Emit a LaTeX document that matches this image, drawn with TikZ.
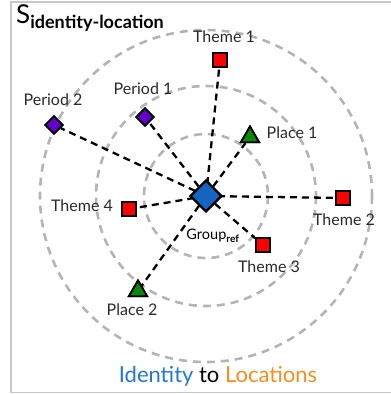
\documentclass[tikz,border=0pt]{standalone}
\usepackage{fontspec}
\setmainfont{Lato}
\usetikzlibrary{shapes.geometric}
\definecolor{ringgray}{HTML}{B4B4B4}
\definecolor{framegray}{HTML}{C8C8C8}
\definecolor{groupblue}{HTML}{1565C0}
\definecolor{periodpurple}{HTML}{6600CC}
\definecolor{placegreen}{HTML}{0A8A0A}
\definecolor{themered}{HTML}{FF0000}
\definecolor{labelgray}{HTML}{2A2A2A}
\definecolor{idblue}{HTML}{1F78D8}
\definecolor{locorange}{HTML}{FF8C1A}
\tikzset{
  ring/.style={draw=ringgray, line width=2.6pt, dash pattern=on 8pt off 6pt},
  link/.style={draw=black, line width=2.3pt, dash pattern=on 7pt off 5pt},
  theme/.style={draw=black, fill=themered, line width=1.8pt, minimum size=14pt, inner sep=0pt},
  place/.style={draw=black, fill=placegreen, line width=1.8pt, regular polygon, regular polygon sides=3, minimum size=21pt, inner sep=0pt},
  period/.style={draw=black, fill=periodpurple, line width=1.8pt, diamond, minimum size=18pt, inner sep=0pt},
  group/.style={draw=black, fill=groupblue, line width=2.4pt, diamond, minimum size=32pt, inner sep=0pt},
  lbl/.style={text=labelgray, font=\fontsize{16}{18}\selectfont, inner sep=0pt}
}
\begin{document}
\begin{tikzpicture}[x=1pt, y=-1pt]
  \useasboundingbox (0,0) rectangle (391,394);
  % frame
  \draw[framegray, line width=1.6pt] (391,2) -- (11,2) -- (11,392.5) -- (391,392.5);
  % concentric rings around the reference group
  \coordinate (c) at (206,196);
  \draw[ring] (c) circle[radius=62];
  \draw[ring] (c) circle[radius=110];
  \draw[ring] (c) circle[radius=166];
  % items
  \node[theme]  (t1) at (220,60)  {};
  \node[theme]  (t2) at (343,198) {};
  \node[theme]  (t3) at (263,245) {};
  \node[theme]  (t4) at (129,209) {};
  \node[place]  (p1) at (250,137) {};
  \node[place]  (p2) at (138,291) {};
  \node[period] (r1) at (145,117) {};
  \node[period] (r2) at (54,125)  {};
  % links from the group to each item
  \foreach \n in {t1,t2,t3,t4,p1,p2,r1,r2}
    \draw[link] (c) -- (\n);
  % redraw items over the links
  \node[theme]  at (t1) {};
  \node[theme]  at (t2) {};
  \node[theme]  at (t3) {};
  \node[theme]  at (t4) {};
  \node[place]  at (p1) {};
  \node[place]  at (p2) {};
  \node[period] at (r1) {};
  \node[period] at (r2) {};
  \node[group]  (g) at (c) {};
  % labels
  \node[lbl] (lt1) at (224,37)  {Theme 1};
  \node[lbl] (lt2) at (344,220) {Theme 2};
  \node[lbl] (lt3) at (269,267) {Theme 3};
  \node[lbl] (lt4) at (82,206)  {Theme 4};
  \node[lbl] (lp1) at (292,133) {Place 1};
  \node[lbl] (lp2) at (132,310) {Place 2};
  \node[lbl] (lr1) at (143,89)  {Period 1};
  \node[lbl] (lr2) at (53,100)  {Period 2};
  \node[text=black, inner sep=0pt, font=\fontsize{14.5}{16}\selectfont] (lg) at (213,236) {Group\textsubscript{\bfseries ref}};
  % title
  \node[anchor=base west, inner sep=0pt, font=\fontsize{26}{28}\selectfont] (title) at (16,23)
    {S\raisebox{-5pt}{\fontsize{18}{20}\selectfont\bfseries identity-location}};
  % caption
  \node[inner sep=0pt, font=\fontsize{22}{24}\selectfont] (cap) at (218,376)
    {\textcolor{idblue}{Identity} to \textcolor{locorange}{Locations}};
\end{tikzpicture}
\end{document}
